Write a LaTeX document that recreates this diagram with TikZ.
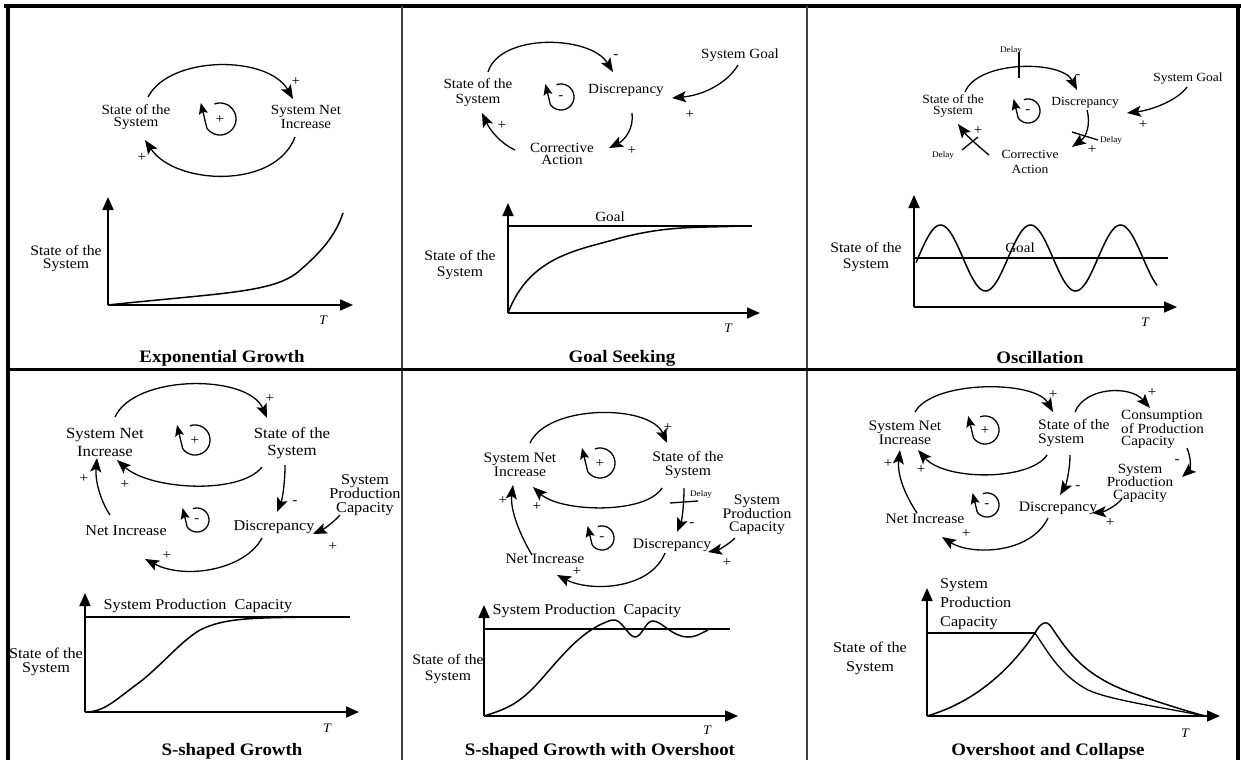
\documentclass[tikz,border=0pt]{standalone}
\usepackage{fontspec}
\setmainfont{Liberation Serif}[FakeStretch=1.08]
\usetikzlibrary{arrows.meta}
\newcommand{\fsz}[2]{\fontsize{#1}{#2}\selectfont}
\tikzset{
  cld/.style={line width=1.3pt,-{Stealth[length=14pt,width=11pt,inset=3pt]}},
  axisl/.style={line width=1.7pt,-{Triangle[length=13pt,width=11pt]}},
  crv/.style={line width=1.5pt},
  thinl/.style={line width=1.3pt},
  loopl/.style={line width=1.3pt,-{Stealth[length=11pt,width=9pt,inset=2pt]}},
  txt/.style={inner sep=0pt,align=center},
  sgn/.style={inner sep=0pt,font=\fsz{14}{14}},
  tiny/.style={inner sep=0pt,font=\fsz{8.5}{8.5}},
  ttl/.style={inner sep=0pt,font=\fsz{17.5}{17.5}\bfseries},
  tlab/.style={inner sep=0pt,font=\fsz{13}{13}\itshape},
}
\newcommand{\cldlink}[5]{\coordinate (#1a) at #2; \coordinate (#1b) at #5;
  \draw[cld] (#1a) .. controls #3 and #4 .. (#1b);}
\newcommand{\loopsym}[5]{\coordinate (#1) at (#2,#3);
  \draw[loopl] plot[domain=250:505,samples=40] ({#2+#4*cos(\x)},{#3+#4*sin(\x)}) -- ({#2-1.2*#4},{#3-1.0*#4});
  \node[sgn] (#1t) at ({#2},{#3+1}) {#5};}
\begin{document}
\begin{tikzpicture}[x=1pt,y=-1pt]
\useasboundingbox (0,0) rectangle (1241,760);
% frame
\coordinate (fa) at (4,6); \coordinate (fb) at (1241,6);
\draw[line width=3.5pt] (fa) -- (fb);
\coordinate (fc) at (8,4); \coordinate (fd) at (8,760);
\draw[line width=4pt] (fc) -- (fd);
\coordinate (fe) at (1238,4); \coordinate (ff) at (1238,760);
\draw[line width=4pt] (fe) -- (ff);
\coordinate (fg) at (402,6); \coordinate (fh) at (402,760);
\draw[line width=2pt,black!75] (fg) -- (fh);
\coordinate (fi) at (807,6); \coordinate (fj) at (807,760);
\draw[line width=2pt,black!75] (fi) -- (fj);
\coordinate (fk) at (8,369); \coordinate (fl) at (1238,369);
\draw[line width=3pt] (fk) -- (fl);

% ===== Panel 1: Exponential Growth
\node[txt,font=\fsz{14}{12}] (p1s) at (136,117) {State of the\\System};
\node[txt,font=\fsz{14}{12}] (p1n) at (306,117) {System Net\\Increase};
\cldlink{p1a}{(148,97)}{(170,55)}{(268,55)}{(293,99)}
\node[sgn] (p1pa) at (296,82) {+};
\loopsym{p1l}{220}{119}{16}{+}
\cldlink{p1b}{(295,137)}{(275,190)}{(175,185)}{(145,140)}
\node[sgn] (p1pb) at (142,158) {+};
\coordinate (p1o) at (108,305); \coordinate (p1y) at (108,197); \coordinate (p1x) at (353,305);
\draw[axisl] (p1o) -- (p1y);
\draw[axisl] (p1o) -- (p1x);
\coordinate (p1e) at (343,213);
\draw[crv] (p1o) .. controls (220,293) and (272,293) .. (298,272) .. controls (320,253) and (335,237) .. (p1e);
\node[tlab] (p1t) at (323,320) {T};
\node[txt,font=\fsz{14.5}{13}] (p1g) at (66,258) {State of the\\System};
\node[ttl] (p1h) at (222,358) {Exponential Growth};

% ===== Panel 2: Goal Seeking
\node[txt,font=\fsz{14}{15}] (p2s) at (478,93) {State of the\\System};
\node[txt,font=\fsz{14}{14}] (p2d) at (626,90) {Discrepancy};
\node[txt,font=\fsz{14}{12}] (p2c) at (562,154) {Corrective\\Action};
\node[txt,font=\fsz{14}{14}] (p2g) at (740,55) {System Goal};
\cldlink{p2a}{(488,72)}{(500,33)}{(590,35)}{(613,72)}
\node[sgn] (p2pa) at (616,57) {-};
\loopsym{p2l}{561}{97}{13}{-}
\cldlink{p2b}{(632,113)}{(634,128)}{(625,140)}{(609,148)}
\node[sgn] (p2pb) at (632,151) {+};
\cldlink{p2k}{(515,150)}{(500,143)}{(490,130)}{(482,113)}
\node[sgn] (p2pk) at (502,126) {+};
\cldlink{p2e}{(738,65)}{(728,82)}{(705,95)}{(672,98)}
\node[sgn] (p2pe) at (690,115) {+};
\coordinate (p2o) at (508,313); \coordinate (p2y) at (508,203); \coordinate (p2x) at (760,313);
\draw[axisl] (p2o) -- (p2y);
\draw[axisl] (p2o) -- (p2x);
\coordinate (p2ga) at (508,226); \coordinate (p2gb) at (752,226);
\draw[thinl] (p2ga) -- (p2gb);
\node[txt,font=\fsz{14}{14}] (p2gl) at (610,217) {Goal};
\coordinate (p2ce) at (740,226);
\draw[crv] (p2o) .. controls (530,255) and (580,250) .. (620,238) .. controls (670,225) and (700,228) .. (p2ce);
\node[tlab] (p2t) at (728,328) {T};
\node[txt,font=\fsz{14.5}{16}] (p2lab) at (460,265) {State of the\\System};
\node[ttl] (p2h) at (622,358) {Goal Seeking};

% ===== Panel 3: Oscillation
\node[tiny] (p3dl1) at (1011,50) {Delay};
\coordinate (p3ta) at (1019,52); \coordinate (p3tb) at (1019,78);
\draw[thinl] (p3ta) -- (p3tb);
\cldlink{p3a}{(965,92)}{(978,60)}{(1062,60)}{(1077,90)}
\node[sgn] (p3pa) at (1078,77) {-};
\node[txt,font=\fsz{12.5}{11}] (p3s) at (953,106) {State of the\\System};
\node[txt,font=\fsz{12.5}{12.5}] (p3d) at (1085,103) {Discrepancy};
\loopsym{p3l}{1028}{111}{12}{-}
\cldlink{p3b}{(1087,110)}{(1091,125)}{(1086,137)}{(1072,147)}
\coordinate (p3ua) at (1072,132); \coordinate (p3ub) at (1098,140);
\draw[thinl] (p3ua) -- (p3ub);
\node[tiny] (p3dl2) at (1111,140) {Delay};
\node[sgn] (p3pb) at (1092,150) {+};
\node[txt,font=\fsz{12.5}{15}] (p3c) at (1030,162) {Corrective\\Action};
\cldlink{p3k}{(989,155)}{(978,146)}{(967,136)}{(958,124)}
\coordinate (p3va) at (962,150); \coordinate (p3vb) at (978,137);
\draw[thinl] (p3va) -- (p3vb);
\node[tiny] (p3dl3) at (943,155) {Delay};
\node[sgn] (p3pk) at (978,131) {+};
\node[txt,font=\fsz{12.5}{12.5}] (p3g) at (1188,79) {System Goal};
\cldlink{p3e}{(1187,87)}{(1178,100)}{(1152,110)}{(1127,113)}
\node[sgn] (p3pe) at (1143,125) {+};
\coordinate (p3o) at (914,307); \coordinate (p3y) at (914,195); \coordinate (p3x) at (1177,307);
\draw[axisl] (p3o) -- (p3y);
\draw[axisl] (p3o) -- (p3x);
\coordinate (p3ga) at (914,258); \coordinate (p3gb) at (1168,258);
\draw[thinl] (p3ga) -- (p3gb);
\draw[crv] plot[domain=916:1157,samples=140] (\x,{258-33*sin(4*(\x-918))});
\node[txt,font=\fsz{14}{14}] (p3gl) at (1020,248) {Goal};
\node[tlab] (p3t) at (1145,322) {T};
\node[txt,font=\fsz{14.5}{16}] (p3lab) at (866,257) {State of the\\System};
\node[ttl] (p3h) at (1040,358) {Oscillation};

% ===== Panel 4: S-shaped Growth
\node[txt,font=\fsz{15.5}{18}] (p4n) at (105,442) {System Net\\Increase};
\node[txt,font=\fsz{15.5}{17}] (p4s) at (292,443) {State of the\\System};
\cldlink{p4a}{(115,417)}{(135,374)}{(248,374)}{(267,418)}
\node[sgn] (p4pa) at (270,399) {+};
\loopsym{p4l}{195}{440}{15}{+}
\cldlink{p4b}{(262,467)}{(240,495)}{(150,490)}{(117,460)}
\node[sgn] (p4pb) at (125,485) {+};
\cldlink{p4c}{(110,515)}{(100,500)}{(95,480)}{(97,458)}
\node[sgn] (p4pc) at (84,479) {+};
\node[txt,font=\fsz{15}{15}] (p4i) at (126,531) {Net Increase};
\loopsym{p4m}{197}{520}{12}{-}
\cldlink{p4d}{(285,465)}{(285,485)}{(282,500)}{(277,512)}
\node[sgn] (p4pd) at (295,503) {-};
\node[txt,font=\fsz{15}{15}] (p4q) at (274,527) {Discrepancy};
\node[txt,font=\fsz{15}{14}] (p4p) at (365,495) {System\\Production\\Capacity};
\cldlink{p4e}{(340,515)}{(332,524)}{(322,530)}{(313,534)}
\node[sgn] (p4pe) at (333,547) {+};
\cldlink{p4f}{(262,538)}{(245,570)}{(185,580)}{(145,559)}
\node[sgn] (p4pf) at (167,556) {+};
\coordinate (p4o) at (85,712); \coordinate (p4y) at (85,593); \coordinate (p4x) at (359,712);
\draw[axisl] (p4o) -- (p4y);
\draw[axisl] (p4o) -- (p4x);
\coordinate (p4ga) at (85,617); \coordinate (p4gb) at (350,617);
\draw[thinl] (p4ga) -- (p4gb);
\node[txt,font=\fsz{15}{15}] (p4gl) at (198,606) {System Production~~Capacity};
\coordinate (p4ce) at (310,617);
\draw[crv] (p4o) .. controls (105,712) and (115,700) .. (140,682) .. controls (165,662) and (180,642) .. (200,630) .. controls (225,617) and (260,618) .. (p4ce);
\node[tlab] (p4t) at (327,728) {T};
\node[txt,font=\fsz{15}{14}] (p4lab) at (46,662) {State of the\\System};
\node[ttl] (p4h) at (232,751) {S-shaped Growth};

% ===== Panel 5: S-shaped Growth with Overshoot
\node[txt,font=\fsz{14.5}{14}] (p5n) at (520,465) {System Net\\Increase};
\node[txt,font=\fsz{14.5}{14}] (p5s) at (688,465) {State of the\\System};
\cldlink{p5a}{(530,443)}{(548,404)}{(650,404)}{(667,443)}
\node[sgn] (p5pa) at (668,428) {+};
\loopsym{p5l}{600}{463}{15}{+}
\cldlink{p5b}{(662,488)}{(645,515)}{(560,512)}{(533,487)}
\node[sgn] (p5pb) at (537,507) {+};
\cldlink{p5c}{(532,555)}{(520,535)}{(510,510)}{(513,485)}
\node[sgn] (p5pc) at (503,501) {+};
\node[txt,font=\fsz{14.5}{14}] (p5i) at (545,559) {Net Increase};
\loopsym{p5m}{602}{538}{12}{-}
\cldlink{p5d}{(684,488)}{(684,505)}{(682,520)}{(677,532)}
\coordinate (p5ua) at (670,503); \coordinate (p5ub) at (698,501);
\draw[thinl] (p5ua) -- (p5ub);
\node[tiny] (p5dl) at (701,494) {Delay};
\node[sgn] (p5pd) at (692,525) {-};
\node[txt,font=\fsz{14.5}{14}] (p5q) at (672,545) {Discrepancy};
\node[txt,font=\fsz{14.5}{13.5}] (p5p) at (757,515) {System\\Production\\Capacity};
\cldlink{p5e}{(735,538)}{(728,545)}{(718,550)}{(708,552)}
\node[sgn] (p5pe) at (727,563) {+};
\cldlink{p5f}{(665,553)}{(650,590)}{(590,592)}{(557,575)}
\node[sgn] (p5pf) at (577,572) {+};
\coordinate (p5o) at (484,716); \coordinate (p5y) at (484,605); \coordinate (p5x) at (738,716);
\draw[axisl] (p5o) -- (p5y);
\draw[axisl] (p5o) -- (p5x);
\coordinate (p5ga) at (484,629); \coordinate (p5gb) at (730,629);
\draw[thinl] (p5ga) -- (p5gb);
\node[txt,font=\fsz{15}{15}] (p5gl) at (587,611) {System Production~~Capacity};
\coordinate (p5ce) at (708,630);
\draw[crv] (p5o) .. controls (510,708) and (522,702) .. (545,675) .. controls (565,652) and (585,628) .. (612,620) .. controls (622,618) and (628,637) .. (635,637) .. controls (642,637) and (646,620) .. (653,621) .. controls (662,621) and (672,637) .. (688,637) .. controls (697,637) and (703,632) .. (p5ce);
\node[tlab] (p5t) at (707,730) {T};
\node[txt,font=\fsz{14.5}{16}] (p5lab) at (448,669) {State of the\\System};
\node[ttl] (p5h) at (600,751) {S-shaped Growth with Overshoot};

% ===== Panel 6: Overshoot and Collapse
\node[txt,font=\fsz{14.5}{14}] (p6n) at (905,433) {System Net\\Increase};
\node[txt,font=\fsz{14.5}{14},anchor=west,align=left] (p6s) at (1038,433) {State of the\\System};
\cldlink{p6a}{(915,412)}{(933,380)}{(1035,380)}{(1053,412)}
\node[sgn] (p6pa) at (1053,395) {+};
\loopsym{p6l}{985}{430}{14}{+}
\cldlink{p6b}{(1047,455)}{(1030,481)}{(945,481)}{(918,450)}
\node[sgn] (p6pb) at (921,470) {+};
\cldlink{p6c}{(917,513)}{(905,495)}{(897,475)}{(900,450)}
\node[sgn] (p6pc) at (888,464) {+};
\node[txt,font=\fsz{14.5}{14}] (p6i) at (925,519) {Net Increase};
\loopsym{p6m}{987}{505}{12}{-}
\cldlink{p6d}{(1070,455)}{(1070,470)}{(1066,485)}{(1060,495)}
\node[sgn] (p6pd) at (1078,488) {-};
\node[txt,font=\fsz{14.5}{14}] (p6q) at (1058,508) {Discrepancy};
\cldlink{p6e}{(1075,412)}{(1085,387)}{(1130,385)}{(1150,408)}
\node[sgn] (p6pe) at (1152,393) {+};
\node[txt,font=\fsz{14}{12},anchor=west,align=left] (p6k) at (1121,429) {Consumption\\of Production\\Capacity};
\cldlink{p6f}{(1187,448)}{(1192,460)}{(1190,470)}{(1182,477)}
\node[sgn] (p6pf) at (1177,462) {-};
\node[txt,font=\fsz{14}{12.5}] (p6p) at (1140,483) {System\\Production\\Capacity};
\cldlink{p6g}{(1122,499)}{(1115,507)}{(1103,512)}{(1092,513)}
\node[sgn] (p6pg) at (1110,523) {+};
\cldlink{p6h}{(1048,518)}{(1030,555)}{(970,555)}{(942,537)}
\node[sgn] (p6ph) at (966,534) {+};
\coordinate (p6o) at (927,716); \coordinate (p6y) at (927,588); \coordinate (p6x) at (1220,716);
\draw[axisl] (p6o) -- (p6y);
\draw[axisl] (p6o) -- (p6x);
\node[txt,font=\fsz{15}{19},anchor=west,align=left] (p6gl) at (940,604) {System\\Production\\Capacity};
\coordinate (p6ga) at (927,633); \coordinate (p6gb) at (1035,633);
\draw[thinl] (p6ga) -- (p6gb);
\coordinate (p6end) at (1205,716);
\draw[crv] (p6o) .. controls (975,702) and (1010,670) .. (1035,633) .. controls (1040,624) and (1046,618) .. (1052,628) .. controls (1068,652) and (1085,678) .. (1138,695) .. controls (1170,706) and (1190,712) .. (p6end);
\draw[thinl] (p6gb) .. controls (1048,652) and (1060,675) .. (1088,690) .. controls (1110,700) and (1160,707) .. (p6end);
\node[tlab] (p6t) at (1185,733) {T};
\node[txt,font=\fsz{15}{19}] (p6lab) at (870,658) {State of the\\System};
\node[ttl] (p6h) at (1048,751) {Overshoot and Collapse};
\end{tikzpicture}
\end{document}
